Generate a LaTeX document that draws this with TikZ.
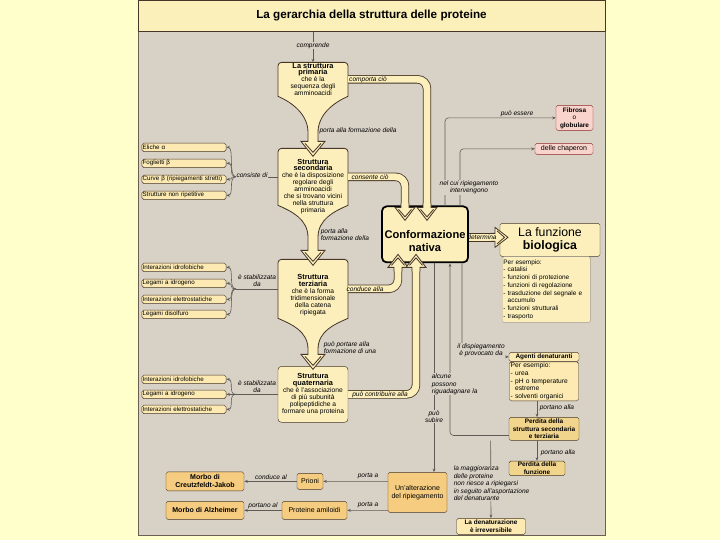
\documentclass[tikz,border=0pt]{standalone}
\usepackage{fontspec}
\setmainfont{Liberation Sans}
\usetikzlibrary{arrows.meta,calc,positioning}
\definecolor{bgcol}{RGB}{255,255,204}
\definecolor{panel}{RGB}{216,209,198}
\definecolor{titlefill}{RGB}{252,240,186}
\definecolor{cream}{RGB}{252,239,188}
\definecolor{listfill}{RGB}{252,234,178}
\definecolor{orfill}{RGB}{245,204,128}
\definecolor{perdfill}{RGB}{242,213,140}
\definecolor{pkfill}{RGB}{248,212,204}
\definecolor{pkline}{RGB}{140,40,40}
\definecolor{dline}{RGB}{70,55,40}
\definecolor{cline}{RGB}{95,90,85}
\newcommand{\tinyf}{\fontsize{5.3}{6.3}\selectfont}
\newcommand{\stf}{\fontsize{5.7}{5.9}\selectfont}
\newcommand{\lblf}{\fontsize{5.6}{6.3}\selectfont\itshape}
\newcommand{\smallf}{\fontsize{6}{6.9}\selectfont}
\newcommand{\boldf}{\fontsize{5.5}{6.4}\selectfont\bfseries}
\newcommand{\hd}[1]{{\fontsize{6.3}{6.8}\selectfont\bfseries #1}}
\tikzset{sbox/.style={draw=dline,fill=listfill,rounded corners=1.5pt,inner sep=1pt,align=center,font=\tinyf},
  listbox/.style={sbox,minimum width=2.52cm,minimum height=0.25cm,text width=2.48cm,align=left,inner ysep=0.3pt,inner xsep=0.6pt},
  orbox/.style={sbox,fill=orfill,font=\smallf},
  pkbox/.style={sbox,draw=pkline,fill=pkfill,font=\smallf},
  titlebar/.style={draw=dline,fill=titlefill,minimum width=14.01cm,minimum height=0.93cm,font=\fontsize{10}{12}\selectfont\bfseries},
  shapearea/.style={minimum width=2.1cm,minimum height=#1,inner sep=0pt,outer sep=0pt},
  conn/.style={draw=cline,line width=0.5pt},
  arr/.style={conn,-{Stealth[length=3pt,width=2.4pt]}},
  lbl/.style={font=\lblf,inner sep=0.5pt,align=center},
  flbl/.style={lbl,fill=panel},
  tlbl/.style={font=\lblf,inner sep=0pt},
  tubeline/.style={draw=dline,line width=0.7pt},
  tube/.style={draw=dline,line width=0.7pt,double=cream,double distance=5.8pt,rounded corners=8pt},
  tubetip/.pic={\fill[cream] (-4,-17) -- (-4,-13) -- (-10,-13) -- (0,0) -- (10,-13) -- (4,-13) -- (4,-17) -- cycle;
    \draw[tubeline] (-4,-17) -- (-4,-13) -- (-10,-13) -- (0,0) -- (10,-13) -- (4,-13) -- (4,-17);
    \draw[tubeline] (-6.5,-11) -- (0,-3.5) -- (6.5,-11);}}

\begin{document}
\begin{tikzpicture}[x=0.03cm,y=-0.03cm]
% background, panel and title
\fill[bgcol] (0,0) rectangle (720,540);
\filldraw[fill=panel,draw=dline!80,line width=0.6pt] (138,0) rectangle (605,535);
\node[titlebar] (title) at (371.5,15.5) {La gerarchia della struttura delle proteine};

% the four levels
\node[sbox,fill=cream,rounded corners=3pt,minimum width=2.1cm,minimum height=1.68cm,font=\stf] (quat) at (313,394)
  {\hd{Struttura}\\\hd{quaternaria}\\che è l'associazione\\di più subunità\\polipeptidiche a\\formare una proteina};
\foreach \ya/\yb/\yn/\yh in {259/318/349/369,148/205/237/265,62/96/132/156}{
  \filldraw[tubeline,fill=cream] (278,\yb) [rounded corners=3pt] -- (278,\ya) -- (348,\ya) [sharp corners] -- (348,\yb)
    .. controls (334,\yb+6) and (318,\yn-18) .. (318,\yn) -- (318,\yh-15) -- (325,\yh-15) -- (313,\yh)
    -- (301,\yh-15) -- (308,\yh-15) -- (308,\yn) .. controls (308,\yn-18) and (292,\yb+6) .. (278,\yb) -- cycle;
  \draw[tubeline] (305,\yh-13) -- (313,\yh-4) -- (321,\yh-13);
}
\node[shapearea=1.02cm] (primB) at (313,79) {};
\node[shapearea=1.71cm] (secB) at (313,176.5) {};
\node[shapearea=1.77cm] (terB) at (313,288.5) {};
\node[font=\stf,align=center] (prim) at (313,79) {\hd{La struttura}\\\hd{primaria}\\che è la\\sequenza degli\\amminoacidi};
\node[font=\stf,align=center] (sec) at (313,186) {\hd{Struttura}\\\hd{secondaria}\\che è la disposizione\\regolare degli\\amminoacidi\\che si trovano vicini\\nella struttura\\primaria};
\node[font=\stf,align=center] (ter) at (313,295) {\hd{Struttura}\\\hd{terziaria}\\che è la forma\\tridimensionale\\della catena\\ripiegata};

\draw[arr] (title.south -| primB.north) -- (primB.north);
\node[flbl] at (313,45) {comprende};
\node[lbl] at (358,130) {porta alla formazione della};
\node[lbl,align=left,anchor=west] at (320,234) {porta alla\\formazione della};
\node[lbl,align=left,anchor=west] at (323,347) {può portare alla\\formazione di una};

% what each level is made of
\coordinate (J1) at ([xshift=-1.26cm]secB.west);
\coordinate (J2) at ([xshift=-1.26cm]terB.west);
\coordinate (J3) at ([xshift=-1.26cm]quat.west);
\draw[conn] (secB.west) -- (J1);
\draw[conn] (terB.west) -- (J2);
\draw[conn] (quat.west) -- (J3);
\foreach \y/\t in {147/Eliche α,163/Foglietti β,179/Curve β (ripiegamenti stretti),195/Strutture non ripetitive}{
  \node[listbox] (a\y) at (184,\y) {\t};
  \draw[arr] (J1) .. controls +(-8,0) and +(8,0) .. (a\y.east);
}
\foreach \y/\t in {267/Interazioni idrofobiche,283/Legami a idrogeno,299/Interazioni elettrostatiche,314/Legami disolfuro}{
  \node[listbox] (b\y) at (184,\y) {\t};
  \draw[arr] (J2) .. controls +(-8,0) and +(8,0) .. (b\y.east);
}
\foreach \y/\t in {379/Interazioni idrofobiche,394/Legami a idrogeno,409/Interazioni elettrostatiche}{
  \node[listbox] (c\y) at (184,\y) {\t};
  \draw[arr] (J3) .. controls +(-8,0) and +(8,0) .. (c\y.east);
}
\node[flbl] at (252,175) {consiste di};
\node[lbl] at (257,280) {è stabilizzata\\da};
\node[lbl] at (257,386) {è stabilizzata\\da};

% native conformation and the thick arrows
\node[draw=black,line width=1.5pt,fill=cream,rounded corners=4pt,minimum width=2.58cm,minimum height=1.68cm] (conf) at (425,234) {};
\node[font=\fontsize{9.5}{10.5}\selectfont\bfseries,align=center] (conft) at ([yshift=-0.2cm]conf.center) {Conformazione\\nativa};
\node[sbox,fill=cream,minimum width=3cm,minimum height=0.99cm,font=\fontsize{10.5}{11.5}\selectfont] (fun) at (550,239.5) {La funzione\\\textbf{biologica}};
\node[sbox,draw=dline!50,fill=cream,anchor=north west,text width=2.58cm,align=left,minimum height=1.98cm,font=\fontsize{5.5}{6.6}\selectfont] (funl) at (502,256)
  {Per esempio:\\- catalisi\\- funzioni di protezione\\- funzioni di regolazione\\- trasduzione del segnale e\\\phantom{- }accumulo\\- funzioni strutturali\\- trasporto};
\coordinate (tA) at (427,220);
\coordinate (tB) at (405,220);
\coordinate (tC) at (398,254);
\coordinate (tD) at (416,254);
\coordinate (tE) at (508,237);
\draw[tube] (primB.east) -| ([yshift=0.45cm]tA);
\draw[tube] (secB.east) -| ([yshift=0.45cm]tB);
\draw[tube] (terB.east) -| ([yshift=-0.45cm]tC);
\draw[tube] (quat.east) -| ([yshift=-0.45cm]tD);
\draw[tube] (conf.east |- tE) -- ([xshift=-0.45cm]tE);
\foreach \p/\r in {tA/0,tB/0,tC/180,tD/180,tE/90}
  \pic[rotate=\r] at (\p) {tubetip};
\node[tlbl] at (368,79) {comporta ciò};
\node[tlbl] at (370,176.5) {consente ciò};
\node[tlbl] at (365,288.5) {conduce alla};
\node[tlbl] at (380,394) {può contribuire alla};
\node[tlbl] at (482,237) {determina};

% shape and chaperons
\node[pkbox,font=\fontsize{5.5}{6.4}\selectfont,minimum width=1.11cm,minimum height=0.75cm] (fib) at (574.5,117.5) {\textbf{Fibrosa}\\o\\\textbf{globulare}};
\node[pkbox,minimum width=1.74cm,minimum height=0.33cm] (chap) at (564,148.5) {delle chaperon};
\coordinate (cf1) at (445,206);
\coordinate (cf2) at (460,206);
\draw[arr,rounded corners=3pt] (cf1) |- (fib.west);
\draw[arr,rounded corners=3pt] (cf2) |- (chap.west);
\node[lbl] at (517,113) {può essere};
\node[flbl] at (469,187) {nel cui ripiegamento\\intervengono};

% denaturation
\node[sbox,font=\boldf,minimum width=2.1cm,minimum height=0.27cm,inner ysep=0.3pt] (agt) at (544,356.5) {Agenti denaturanti};
\node[sbox,anchor=north,text width=2.0cm,align=left,minimum height=1.17cm,font=\fontsize{5.7}{6.5}\selectfont] (agl) at (agt.south)
  {Per esempio:\\- urea\\- pH o temperature\\\phantom{- }estreme\\- solventi organici};
\node[sbox,fill=perdfill,font=\boldf,minimum width=2.1cm,minimum height=0.69cm] (perd) at (544,428.5) {Perdita della\\struttura secondaria\\e terziaria};
\node[sbox,fill=listfill,font=\boldf,minimum width=2.07cm,minimum height=0.48cm] (denat) at (491,526) {La denaturazione\\è irreversibile};
\draw[arr] ([xshift=-1.6cm]perd.south) -- (denat.north);
\node[flbl,anchor=west,align=left] at (453,483) {la maggioranza\\delle proteine\\non riesce a ripiegarsi\\in seguito all'asportazione\\del denaturante};
\node[sbox,fill=perdfill,font=\boldf,minimum width=1.68cm,minimum height=0.42cm] (pfun) at (537,468) {Perdita della\\funzione};
\node[orbox,minimum width=1.77cm,minimum height=1.2cm] (alt) at (417.5,492) {Un'alterazione\\del ripiegamento};
\coordinate (cb1) at (434,263);
\coordinate (cb2) at (450,263);
\coordinate (cb3) at (462,263);
\draw[arr] (cb1) -- (cb1 |- alt.north);
\draw[arr,rounded corners=3pt] ([yshift=-0.2cm]perd.west) -| (cb2);
\draw[arr,rounded corners=3pt] (cb3) |- (agt.west);
\draw[arr] (agl.south -| pfun.north) -- (perd.north -| pfun.north);
\draw[arr] (perd.south -| pfun.north) -- (pfun.north);
\node[flbl] at (481,350) {il dispiegamento\\è provocato da};
\node[flbl,anchor=west,align=left] at (431,384) {alcune\\possono\\riguadagnare la};
\node[flbl] at (434,416) {può\\subire};
\node[lbl,anchor=west] at (539,407) {portano alla};
\node[lbl,anchor=west] at (540,452) {portano alla};

% misfolding diseases
\node[orbox,minimum width=0.78cm,minimum height=0.48cm] (prio) at (310,481) {Prioni};
\node[orbox,minimum width=1.95cm,minimum height=0.54cm] (amil) at (314.5,510) {Proteine amiloidi};
\node[orbox,font=\smallf\bfseries,minimum width=2.34cm,minimum height=0.57cm] (cj) at (205,481) {Morbo di\\Creutzfeldt-Jakob};
\node[orbox,font=\smallf\bfseries,minimum width=2.34cm,minimum height=0.54cm] (alz) at (205,510) {Morbo di Alzheimer};
\draw[arr] ([yshift=0.33cm]alt.west) -- (prio.east);
\draw[arr] ([yshift=-0.54cm]alt.west) -- (amil.east);
\draw[arr] (prio.west) -- (cj.east);
\draw[arr] (amil.west) -- (alz.east);
\node[lbl] at (368,476) {porta a};
\node[lbl] at (368,505) {porta a};
\node[lbl] at (271,477) {conduce al};
\node[lbl] at (263,505) {portano al};
\end{tikzpicture}
\end{document}
